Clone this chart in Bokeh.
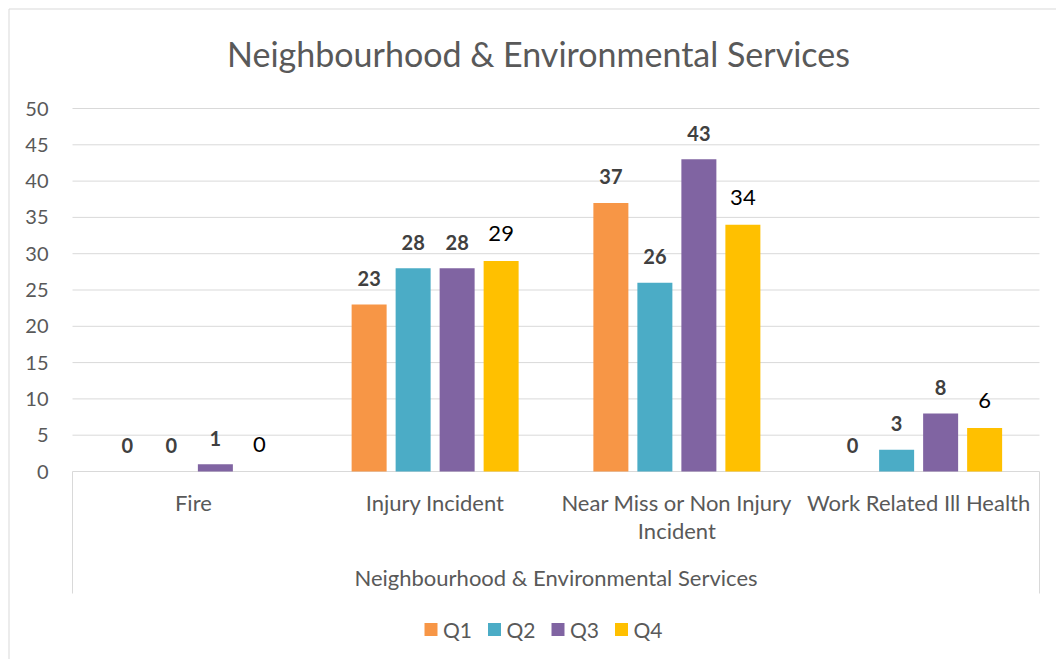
from bokeh.plotting import figure
from bokeh.models import Range1d, FixedTicker
from bokeh.core.properties import value
from bokeh.embed import file_html
from bokeh.resources import INLINE

# ---------------- data ----------------
title_text = "Neighbourhood & Environmental Services"
group_label = "Neighbourhood & Environmental Services"
categories = ["Fire", "Injury Incident", "Near Miss or Non Injury\nIncident", "Work Related Ill Health"]
series = ["Q1", "Q2", "Q3", "Q4"]
q1 = [0, 23, 37, 0]
q2 = [0, 28, 26, 3]
q3 = [1, 28, 43, 8]
q4 = [0, 29, 34, 6]
y_ticks = [0, 5, 10, 15, 20, 25, 30, 35, 40, 45, 50]
colors = ["#F79646", "#4BACC6", "#8064A2", "#FFC000"]

# ---------------- layout (picture pixels) ----------------
X0, CAT_W = 72.0, 241.75      # x of category origin, px per category
Y0, UNIT = 471.0, 7.26        # y of value 0, px per unit
W, H = 1056, 659

def px2x(px):
    return (px - X0) / CAT_W

def py2y(py):
    return (Y0 - py) / UNIT

FONT = value("Lato")
GREY = "#595959"

p = figure(width=W, height=H,
           x_range=Range1d(px2x(0), px2x(W)),
           y_range=Range1d(py2y(H), py2y(0)),
           output_backend="svg", toolbar_location=None,
           x_axis_location=None, y_axis_location="left",
           min_border_left=0, min_border_right=0,
           min_border_top=0, min_border_bottom=0)
p.xgrid.visible = False
p.ygrid.visible = False
p.outline_line_color = None
p.background_fill_color = "white"
p.border_fill_color = "white"

ax = p.yaxis[0]
ax.fixed_location = px2x(70)
ax.ticker = FixedTicker(ticks=y_ticks)
ax.axis_line_color = None
ax.major_tick_line_color = None
ax.minor_tick_line_color = None
ax.major_tick_out = 0
ax.major_tick_in = 0
ax.major_label_standoff = 22
ax.major_label_text_font = "Lato"
ax.major_label_text_font_size = "20px"
ax.major_label_text_color = GREY

# outer chart border (left and top edges)
p.segment(x0=[px2x(8.5), px2x(8.5)], y0=[py2y(8.5), py2y(8.5)],
          x1=[px2x(8.5), px2x(W)], y1=[py2y(H), py2y(8.5)],
          line_color="#D9D9D9", line_width=1)

# gridlines (0 line acts as category axis line)
n = len(categories)
p.segment(x0=[0] * len(y_ticks), x1=[n] * len(y_ticks), y0=y_ticks, y1=y_ticks,
          line_color="#D9D9D9", line_width=1)
# bracket lines of the category axis
p.segment(x0=[0, n], x1=[0, n], y0=[0, 0], y1=[py2y(593), py2y(593)],
          line_color="#D9D9D9", line_width=1)

# bars + labels
step, bw = 44 / CAT_W, 35 / CAT_W
for k, (name, vals, col) in enumerate(zip(series, [q1, q2, q3, q4], colors)):
    xs = [i + 0.5 + (k - 1.5) * step for i in range(n)]
    p.vbar(x=xs, top=vals, width=bw, bottom=0, fill_color=col, line_color=None)
    last = (k == 3)
    p.text(x=xs, y=vals, text=[str(v) for v in vals],
           text_align="center", text_baseline="middle",
           y_offset=-27 if last else -26,
           text_font=FONT,
           text_font_style="normal" if last else "bold",
           text_font_size="22px" if last else "20px",
           text_color="#000000" if last else "#404040")

# category labels
cx, cy, ct, co = [], [], [], []
for i, lab in enumerate(categories):
    for j, line in enumerate(lab.split("\n")):
        cx.append(i + 0.5)
        cy.append(0)
        ct.append(line)
        co.append(31 + 28 * j)
p.text(x=cx, y=cy, text=ct, y_offset=co, text_align="center", text_baseline="middle",
       text_font=FONT, text_font_size="22px", text_color=GREY)

# group label
p.text(x=[n / 2], y=[0], text=[group_label], y_offset=106,
       text_align="center", text_baseline="middle",
       text_font=FONT, text_font_size="22px", text_color=GREY)

# title
p.text(x=[px2x(538)], y=[py2y(53)], text=[title_text],
       text_align="center", text_baseline="middle",
       text_font=FONT, text_font_size="34px", text_color=GREY)

# legend
lx = [px2x(430.5 + 63.5 * k) for k in range(4)]
ly = py2y(629)
p.scatter(x=lx, y=[ly] * 4, marker="square", size=13, fill_color=colors, line_color=None)
p.text(x=lx, y=[ly] * 4, text=series, x_offset=12, text_align="left", text_baseline="middle",
       text_font=FONT, text_font_size="21px", text_color=GREY)

open("out.html", "w").write(file_html(p, INLINE))
